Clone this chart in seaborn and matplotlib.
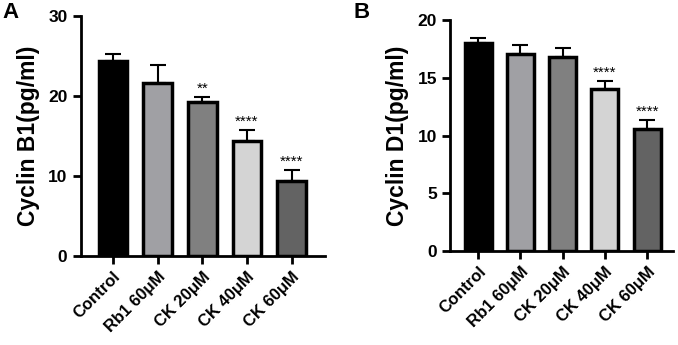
import matplotlib
matplotlib.use("Agg")
import matplotlib.pyplot as plt
import seaborn as sns
import pandas as pd
import numpy as np

groups = ["Control", "Rb1 60μM", "CK 20μM", "CK 40μM", "CK 60μM"]
b1_mean = [24.4, 21.6, 19.2, 14.4, 9.4]
b1_err = [0.8, 2.2, 0.7, 1.4, 1.3]
b1_sig = ["", "", "**", "****", "****"]
d1_mean = [18.0, 17.1, 16.8, 14.0, 10.6]
d1_err = [0.45, 0.75, 0.8, 0.75, 0.75]
d1_sig = ["", "", "", "****", "****"]
colors = ["#000000", "#a0a0a4", "#808080", "#d4d4d4", "#636363"]

sns.set_style("ticks", {"axes.edgecolor": "black", "text.color": "black",
                        "xtick.color": "black", "ytick.color": "black",
                        "axes.labelcolor": "black"})
plt.rcParams['font.family'] = ['Liberation Sans', 'DejaVu Sans']

fig = plt.figure(figsize=(6.78, 3.45), dpi=100)
axA = fig.add_axes([0.119, 0.258, 0.360, 0.696])
axB = fig.add_axes([0.664, 0.272, 0.329, 0.670])

def panel(ax, means, errs, sigs, ylabel, ymax, step, xlim, letter, lx, ly):
    df = pd.DataFrame({"group": groups, "value": means})
    sns.barplot(data=df, x="group", y="value", hue="group", palette=colors,
                edgecolor="black", linewidth=2.5, width=0.64, legend=False, ax=ax,
                errorbar=None)
    x = np.arange(len(groups))
    ax.errorbar(x, means, yerr=[np.zeros(len(errs)), errs], fmt="none",
                ecolor="black", elinewidth=1.5, capsize=6, capthick=1.5, zorder=1)
    for xi, m, e, s in zip(x, means, errs, sigs):
        if s:
            ax.text(xi, m + e + ymax * 0.005, s, ha="center", va="bottom",
                    fontsize=11, color="black")
    ax.set_ylim(0, ymax)
    ax.set_xlim(*xlim)
    ax.set_yticks(np.arange(0, ymax + 0.1, step))
    ax.set_ylabel(ylabel, fontsize=16.5, fontweight="bold", labelpad=6, color="black")
    ax.set_xlabel("")
    sns.despine(ax=ax)
    for sp in ["left", "bottom"]:
        ax.spines[sp].set_linewidth(2)
        ax.spines[sp].set_color("black")
    ax.tick_params(axis="both", width=2, length=6, labelsize=12.5, colors="black")
    for lab in ax.get_yticklabels():
        lab.set_fontweight("bold")
    ax.set_xticks(x)
    ax.set_xticklabels(groups, rotation=45, ha="right", rotation_mode="anchor",
                       fontweight="bold", fontsize=12)
    fig.text(lx, ly, letter, fontsize=16, fontweight="bold", ha="left", va="top",
             color="black")

panel(axA, b1_mean, b1_err, b1_sig, "Cyclin B1(pg/ml)", 30, 10, (-0.72, 4.74), "A", 0.003, 0.995)
panel(axB, d1_mean, d1_err, d1_sig, "Cyclin D1(pg/ml)", 20, 5, (-0.66, 4.62), "B", 0.522, 0.995)

fig.savefig("out.png", dpi=100)
